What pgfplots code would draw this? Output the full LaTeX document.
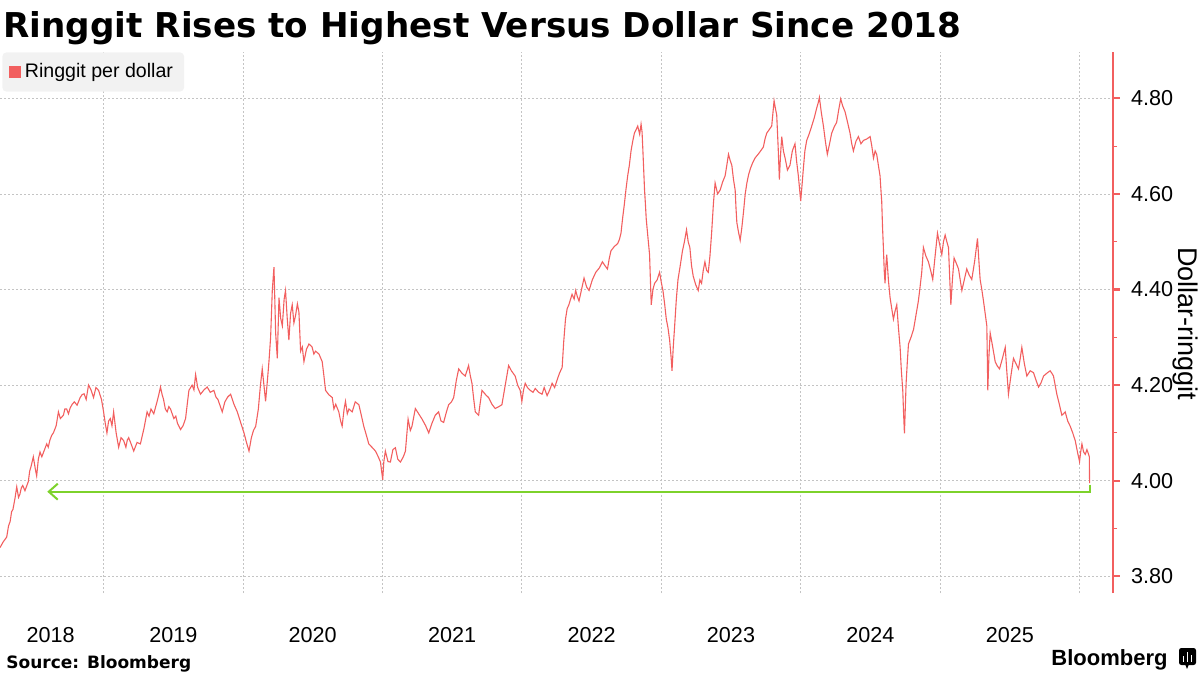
\documentclass[border=0pt]{standalone}
\usepackage{fontspec}
\setmainfont{Liberation Sans}
\newfontfamily\dejavu{DejaVu Sans}
\usepackage{pgfplots}
\pgfplotsset{compat=1.18}
\usetikzlibrary{arrows.meta}
\definecolor{rgred}{HTML}{F25F5F}
\definecolor{rggreen}{HTML}{7DD22B}
\definecolor{gridgray}{HTML}{C4C4C4}
\definecolor{legbg}{HTML}{F2F2F2}
\begin{document}
\begin{tikzpicture}
\path[use as bounding box] (0,0) rectangle (600pt,-337.5pt);
\node[anchor=base west, inner sep=0pt, font=\dejavu\bfseries\fontsize{17.1}{17}\selectfont] at (1.5pt,-18.5pt) {Ringgit Rises to Highest Versus Dollar Since 2018};
\begin{axis}[
  at={(0pt,-26pt)}, anchor=north west,
  scale only axis, width=556.5pt, height=270.5pt,
  xmin=2018.257, xmax=2026.240, ymin=3.765, ymax=4.897,
  axis x line*=bottom, axis y line*=right,
  x axis line style={draw=none},
  y axis line style={draw=rgred, line width=0.6pt},
  xtick={2018.62,2019.5,2020.5,2021.5,2022.5,2023.5,2024.5,2025.5},
  xticklabels={2018,2019,2020,2021,2022,2023,2024,2025},
  xtick style={draw=none},
  xticklabel style={anchor=base, yshift=-21pt},
  extra x ticks={2019,2020,2021,2022,2023,2024,2025,2026},
  extra x tick labels={},
  extra x tick style={grid=major},
  grid style={gridgray, dash pattern=on 1pt off 1pt, line width=0.4pt},
  ymajorgrids=true,
  ytick={3.8,4.0,4.2,4.4,4.6,4.8},
  minor ytick={3.9,4.1,4.3,4.5,4.7},
  yticklabel style={/pgf/number format/.cd, fixed, fixed zerofill, precision=2, /tikz/.cd, xshift=2pt},
  /pgf/number format/assume math mode=true,
  tick label style={font=\fontsize{10.8}{11}\selectfont, text=black},
  ytick style={draw=rgred},
  tick align=outside,
  major tick length=3.5pt, minor tick length=2pt,
  major tick style={line width=1.1pt},
  minor tick style={line width=0.5pt},
  legend style={at={(rel axis cs:0,1)}, anchor=north west, xshift=1pt,
    fill=legbg, draw=none, rounded corners=2pt,
    font=\fontsize{9.8}{11}\selectfont, inner xsep=3.5pt, inner ysep=3.5pt},
  legend image code/.code={\fill[rgred, sharp corners] (0pt,-2.6pt) rectangle (5.2pt,2.6pt);},
  no markers,
]
\addplot[rgred, line width=0.55pt] coordinates {
(2018.257,3.860)(2018.280,3.872)(2018.305,3.882)(2018.318,3.905)(2018.330,3.915)(2018.340,3.935)(2018.350,3.940)(2018.365,3.964)(2018.377,3.987)(2018.390,3.965)(2018.400,3.972)(2018.410,3.985)(2018.420,3.990)(2018.436,3.979)(2018.460,3.998)(2018.470,4.020)(2018.480,4.030)(2018.496,4.050)(2018.510,4.025)(2018.520,4.010)(2018.532,4.045)(2018.544,4.060)(2018.557,4.050)(2018.570,4.060)(2018.592,4.077)(2018.603,4.070)(2018.615,4.085)(2018.628,4.095)(2018.640,4.100)(2018.660,4.115)(2018.676,4.144)(2018.690,4.130)(2018.712,4.137)(2018.722,4.150)(2018.735,4.150)(2018.748,4.140)(2018.760,4.152)(2018.775,4.160)(2018.790,4.165)(2018.810,4.158)(2018.832,4.174)(2018.846,4.180)(2018.860,4.182)(2018.875,4.170)(2018.892,4.200)(2018.910,4.190)(2018.928,4.174)(2018.945,4.195)(2018.964,4.189)(2018.985,4.170)
(2019.000,4.144)(2019.012,4.120)(2019.024,4.100)(2019.036,4.125)(2019.048,4.130)(2019.060,4.115)(2019.072,4.144)(2019.090,4.100)(2019.108,4.070)(2019.125,4.090)(2019.144,4.084)(2019.160,4.070)(2019.170,4.085)(2019.180,4.090)(2019.200,4.075)(2019.216,4.062)(2019.240,4.080)(2019.264,4.077)(2019.290,4.110)(2019.312,4.144)(2019.326,4.135)(2019.340,4.150)(2019.360,4.140)(2019.384,4.166)(2019.396,4.180)(2019.408,4.196)(2019.420,4.180)(2019.430,4.170)(2019.443,4.150)(2019.456,4.144)(2019.468,4.155)(2019.480,4.150)(2019.504,4.130)(2019.518,4.135)(2019.530,4.120)(2019.552,4.107)(2019.570,4.115)(2019.588,4.130)(2019.600,4.160)(2019.612,4.189)(2019.635,4.200)(2019.648,4.190)(2019.660,4.222)(2019.675,4.195)(2019.695,4.181)(2019.720,4.190)(2019.743,4.196)(2019.765,4.185)(2019.791,4.189)(2019.806,4.175)(2019.820,4.170)(2019.851,4.144)(2019.870,4.165)(2019.890,4.175)(2019.911,4.181)(2019.935,4.160)(2019.959,4.144)(2019.985,4.120)
(2020.007,4.100)(2020.025,4.080)(2020.043,4.062)(2020.060,4.090)(2020.075,4.105)(2020.091,4.114)(2020.110,4.150)(2020.125,4.200)(2020.138,4.234)(2020.150,4.200)(2020.162,4.166)(2020.175,4.210)(2020.186,4.249)(2020.198,4.300)(2020.210,4.398)(2020.222,4.447)(2020.228,4.380)(2020.234,4.309)(2020.246,4.256)(2020.258,4.383)(2020.270,4.340)(2020.282,4.324)(2020.295,4.380)(2020.305,4.398)(2020.317,4.340)(2020.329,4.294)(2020.341,4.350)(2020.353,4.368)(2020.365,4.330)(2020.377,4.346)(2020.390,4.370)(2020.401,4.353)(2020.413,4.271)(2020.425,4.280)(2020.437,4.249)(2020.455,4.275)(2020.473,4.286)(2020.495,4.280)(2020.508,4.265)(2020.520,4.271)(2020.545,4.265)(2020.568,4.249)(2020.580,4.220)(2020.592,4.189)(2020.615,4.180)(2020.640,4.174)(2020.652,4.150)(2020.665,4.160)(2020.687,4.144)(2020.700,4.125)(2020.711,4.114)(2020.725,4.150)(2020.735,4.166)(2020.748,4.140)(2020.760,4.150)(2020.783,4.144)(2020.805,4.165)(2020.831,4.159)(2020.850,4.135)(2020.866,4.114)(2020.885,4.095)(2020.902,4.077)(2020.925,4.070)(2020.950,4.062)(2020.970,4.050)(2020.986,4.039)
(2021.002,4.002)(2021.010,4.040)(2021.021,4.062)(2021.040,4.040)(2021.057,4.039)(2021.075,4.065)(2021.093,4.069)(2021.110,4.045)(2021.129,4.039)(2021.150,4.050)(2021.165,4.062)(2021.184,4.129)(2021.200,4.105)(2021.212,4.114)(2021.236,4.151)(2021.260,4.140)(2021.284,4.129)(2021.310,4.115)(2021.332,4.100)(2021.355,4.120)(2021.379,4.137)(2021.403,4.144)(2021.420,4.125)(2021.439,4.122)(2021.460,4.145)(2021.475,4.159)(2021.495,4.165)(2021.511,4.174)(2021.530,4.210)(2021.547,4.234)(2021.570,4.225)(2021.594,4.219)(2021.618,4.241)(2021.630,4.220)(2021.642,4.204)(2021.655,4.170)(2021.666,4.144)(2021.690,4.137)(2021.700,4.160)(2021.714,4.189)(2021.740,4.180)(2021.761,4.174)(2021.785,4.160)(2021.809,4.151)(2021.835,4.155)(2021.857,4.159)(2021.875,4.190)(2021.905,4.241)(2021.925,4.230)(2021.952,4.219)(2021.970,4.200)(2021.988,4.189)
(2022.000,4.166)(2022.012,4.190)(2022.024,4.204)(2022.040,4.195)(2022.060,4.189)(2022.080,4.185)(2022.096,4.193)(2022.120,4.185)(2022.145,4.181)(2022.160,4.195)(2022.181,4.178)(2022.200,4.190)(2022.217,4.204)(2022.235,4.195)(2022.253,4.211)(2022.270,4.225)(2022.289,4.237)(2022.300,4.290)(2022.313,4.338)(2022.325,4.360)(2022.337,4.368)(2022.360,4.390)(2022.375,4.380)(2022.386,4.398)(2022.398,4.385)(2022.410,4.376)(2022.428,4.400)(2022.446,4.424)(2022.465,4.405)(2022.482,4.398)(2022.505,4.420)(2022.530,4.436)(2022.555,4.445)(2022.578,4.458)(2022.596,4.450)(2022.614,4.443)(2022.627,4.465)(2022.639,4.481)(2022.663,4.490)(2022.687,4.496)(2022.700,4.505)(2022.711,4.518)(2022.723,4.550)(2022.735,4.578)(2022.747,4.610)(2022.759,4.638)(2022.771,4.660)(2022.783,4.690)(2022.795,4.710)(2022.807,4.727)(2022.820,4.735)(2022.831,4.742)(2022.845,4.725)(2022.855,4.746)(2022.862,4.730)(2022.867,4.698)(2022.874,4.650)(2022.880,4.608)(2022.886,4.580)(2022.892,4.548)(2022.904,4.510)(2022.916,4.473)(2022.922,4.420)(2022.928,4.368)(2022.940,4.400)(2022.952,4.413)(2022.970,4.420)(2022.988,4.436)
(2023.000,4.415)(2023.012,4.398)(2023.024,4.370)(2023.036,4.338)(2023.048,4.320)(2023.060,4.294)(2023.070,4.260)(2023.077,4.230)(2023.086,4.280)(2023.096,4.324)(2023.108,4.380)(2023.120,4.421)(2023.136,4.450)(2023.152,4.481)(2023.166,4.500)(2023.181,4.525)(2023.193,4.500)(2023.205,4.488)(2023.217,4.450)(2023.229,4.428)(2023.247,4.410)(2023.265,4.398)(2023.277,4.420)(2023.289,4.413)(2023.301,4.440)(2023.313,4.458)(2023.325,4.440)(2023.337,4.436)(2023.349,4.470)(2023.361,4.518)(2023.374,4.580)(2023.386,4.623)(2023.404,4.600)(2023.422,4.608)(2023.440,4.625)(2023.458,4.638)(2023.470,4.660)(2023.482,4.683)(2023.494,4.670)(2023.506,4.660)(2023.518,4.630)(2023.530,4.608)(2023.536,4.570)(2023.542,4.540)(2023.554,4.520)(2023.566,4.503)(2023.578,4.530)(2023.590,4.563)(2023.602,4.600)(2023.614,4.623)(2023.626,4.640)(2023.639,4.653)(2023.655,4.665)(2023.672,4.675)(2023.700,4.685)(2023.732,4.698)(2023.744,4.715)(2023.756,4.727)(2023.775,4.735)(2023.792,4.742)(2023.809,4.795)(2023.818,4.780)(2023.828,4.765)(2023.838,4.700)(2023.847,4.630)(2023.855,4.680)(2023.864,4.720)(2023.876,4.690)(2023.888,4.675)(2023.905,4.650)(2023.923,4.660)(2023.940,4.690)(2023.959,4.705)(2023.970,4.670)(2023.983,4.638)(2023.992,4.610)
(2024.000,4.585)(2024.010,4.620)(2024.019,4.653)(2024.030,4.690)(2024.043,4.712)(2024.060,4.725)(2024.079,4.742)(2024.098,4.760)(2024.115,4.780)(2024.125,4.790)(2024.134,4.802)(2024.148,4.770)(2024.163,4.742)(2024.177,4.710)(2024.191,4.683)(2024.207,4.705)(2024.222,4.727)(2024.240,4.740)(2024.258,4.750)(2024.272,4.775)(2024.287,4.799)(2024.300,4.785)(2024.318,4.772)(2024.336,4.750)(2024.354,4.727)(2024.366,4.705)(2024.378,4.690)(2024.396,4.710)(2024.414,4.720)(2024.432,4.705)(2024.450,4.712)(2024.474,4.715)(2024.498,4.720)(2024.510,4.700)(2024.522,4.675)(2024.534,4.690)(2024.545,4.683)(2024.557,4.660)(2024.569,4.638)(2024.575,4.610)(2024.581,4.585)(2024.587,4.530)(2024.593,4.488)(2024.599,4.440)(2024.605,4.413)(2024.611,4.450)(2024.617,4.473)(2024.629,4.420)(2024.641,4.383)(2024.653,4.360)(2024.665,4.338)(2024.677,4.355)(2024.689,4.368)(2024.701,4.320)(2024.713,4.279)(2024.722,4.230)(2024.732,4.189)(2024.738,4.140)(2024.744,4.099)(2024.750,4.150)(2024.756,4.204)(2024.765,4.250)(2024.773,4.286)(2024.791,4.300)(2024.809,4.316)(2024.826,4.345)(2024.844,4.376)(2024.856,4.405)(2024.868,4.436)(2024.874,4.460)(2024.880,4.488)(2024.898,4.470)(2024.916,4.458)(2024.932,4.440)(2024.947,4.421)(2024.964,4.470)(2024.981,4.518)(2024.996,4.495)
(2025.012,4.473)(2025.024,4.500)(2025.036,4.514)(2025.048,4.500)(2025.060,4.488)(2025.068,4.430)(2025.077,4.368)(2025.088,4.420)(2025.100,4.466)(2025.116,4.455)(2025.132,4.443)(2025.144,4.420)(2025.156,4.398)(2025.173,4.420)(2025.191,4.443)(2025.209,4.430)(2025.227,4.421)(2025.248,4.460)(2025.268,4.507)(2025.278,4.460)(2025.287,4.421)(2025.299,4.400)(2025.311,4.376)(2025.323,4.350)(2025.335,4.324)(2025.342,4.189)(2025.350,4.260)(2025.359,4.309)(2025.377,4.280)(2025.395,4.249)(2025.410,4.240)(2025.426,4.234)(2025.446,4.255)(2025.467,4.279)(2025.478,4.230)(2025.490,4.181)(2025.508,4.220)(2025.526,4.256)(2025.544,4.245)(2025.562,4.234)(2025.574,4.255)(2025.586,4.279)(2025.604,4.245)(2025.622,4.219)(2025.646,4.230)(2025.670,4.226)(2025.688,4.210)(2025.706,4.196)(2025.724,4.205)(2025.742,4.219)(2025.766,4.225)(2025.789,4.230)(2025.801,4.225)(2025.813,4.219)(2025.825,4.200)(2025.837,4.181)(2025.855,4.160)(2025.873,4.137)(2025.885,4.140)(2025.897,4.144)(2025.915,4.125)(2025.933,4.114)(2025.951,4.100)(2025.969,4.084)(2025.985,4.060)
(2026.000,4.040)(2026.008,4.060)(2026.017,4.077)(2026.029,4.060)(2026.041,4.055)(2026.053,4.065)(2026.065,4.055)(2026.070,4.050)(2026.072,3.995)
};
\addlegendentry{Ringgit per dollar}
\addplot[rggreen, line width=1pt, -{Straight Barb[length=4.5pt, width=8pt]}, forget plot] coordinates {(2026.072,3.992)(2026.072,3.977)(2018.596,3.977)};
\end{axis}
\node[rotate=-90, font=\fontsize{13.5}{14}\selectfont] at (592.5pt,-162pt) {Dollar-ringgit};
\node[anchor=base west, inner sep=0pt, font=\dejavu\bfseries\fontsize{8.5}{9}\selectfont] at (3pt,-334pt) {Source: Bloomberg};
\node[anchor=base east, inner sep=0pt, font=\bfseries\fontsize{11}{11}\selectfont] at (584pt,-332.5pt) {Bloomberg};
\fill[black, rounded corners=1.2pt] (589.5pt,-324pt) rectangle (598pt,-332.5pt);
\fill[black] (592.5pt,-332pt) -- (594.5pt,-332pt) -- (593.5pt,-334.5pt) -- cycle;
\fill[white] (591.3pt,-330.8pt) rectangle (592.2pt,-328pt);
\fill[white] (593.3pt,-330.8pt) rectangle (594.2pt,-326pt);
\fill[white] (595.3pt,-330.8pt) rectangle (596.2pt,-327.5pt);
\end{tikzpicture}
\end{document}
